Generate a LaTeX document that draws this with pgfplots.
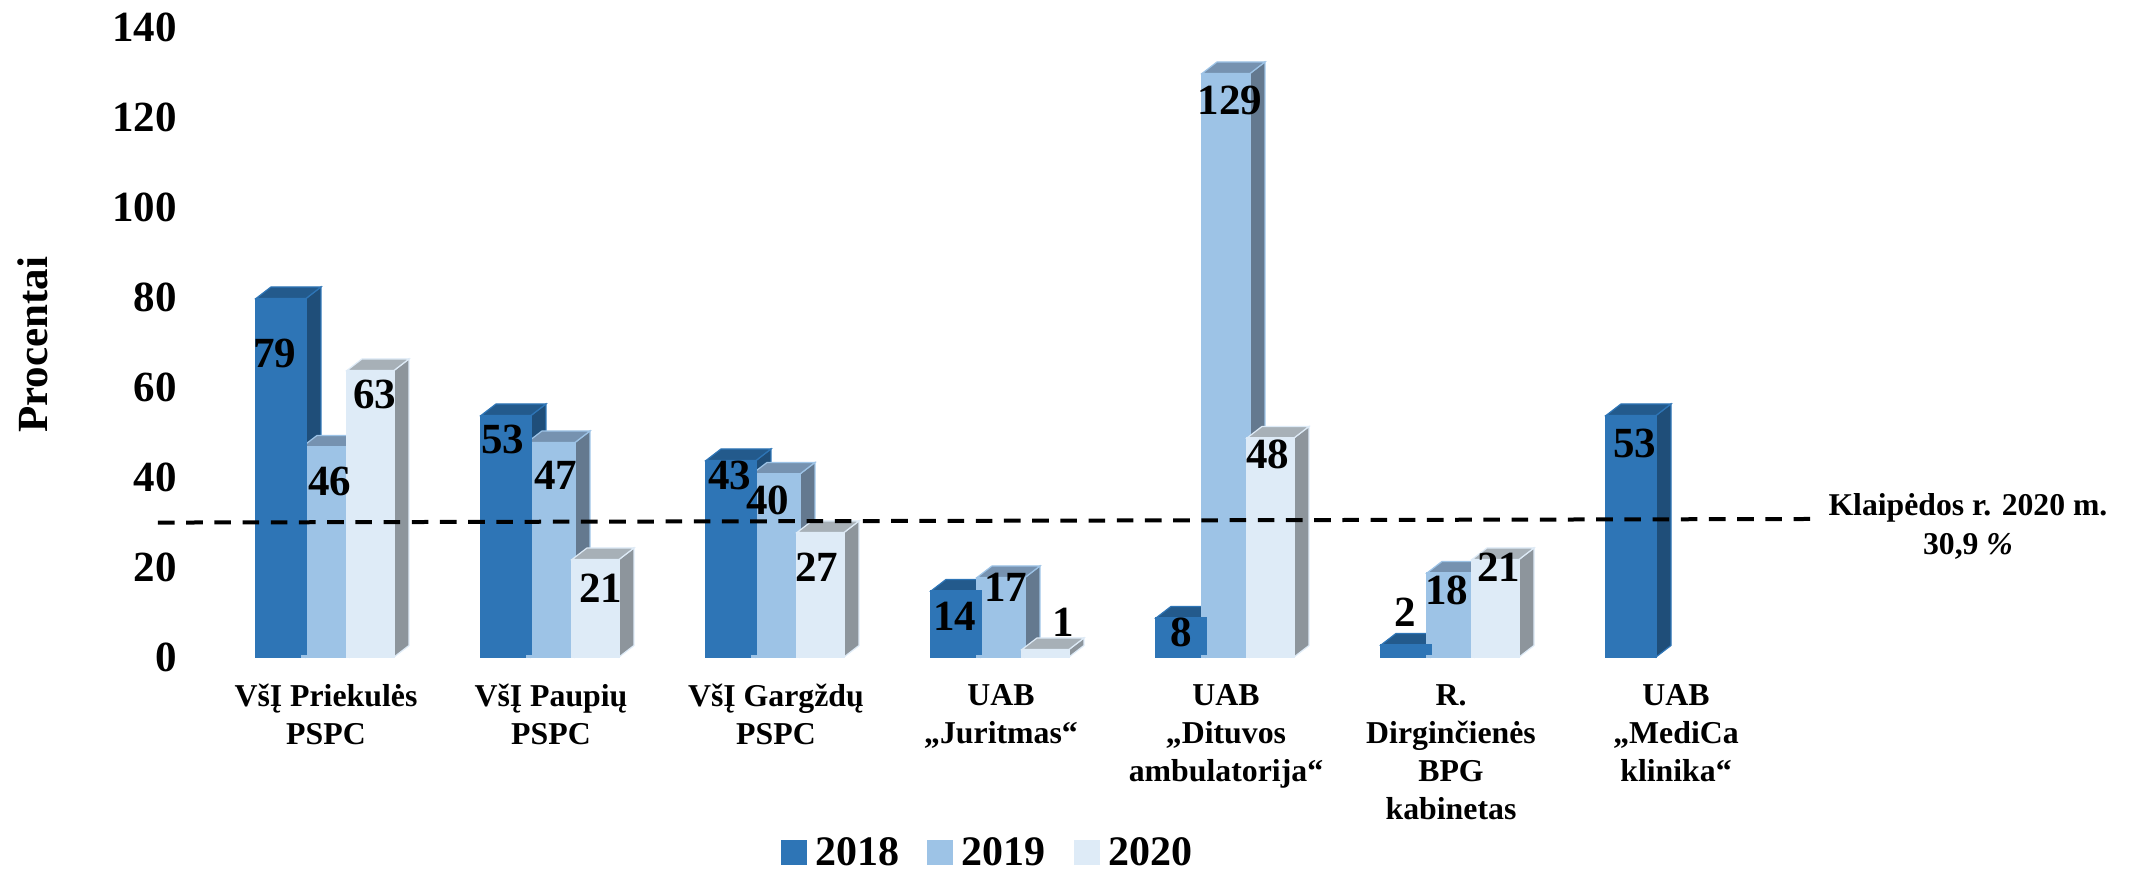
\documentclass[border=0pt]{standalone}
\usepackage{fontspec}
\setmainfont{Liberation Serif}
\usepackage{pgfplots}
\pgfplotsset{compat=1.18}
\definecolor{fronta}{HTML}{2E75B6}
\definecolor{sidea}{HTML}{1F4E79}
\definecolor{topa}{HTML}{235A8C}
\definecolor{frontb}{HTML}{9DC3E6}
\definecolor{sideb}{HTML}{64798F}
\definecolor{topb}{HTML}{7692B0}
\definecolor{frontc}{HTML}{DEEBF7}
\definecolor{sidec}{HTML}{8D959C}
\definecolor{topc}{HTML}{A7B0B7}
% 1px of the reference = 0.5pt; x unit = 225px, y unit = 4.5px
\newcommand{\depth}[7]{%
  \pgfmathsetmacro{\xl}{#1+(#2)/225}%
  \pgfmathsetmacro{\xr}{#1+(#3)/225}%
  \pgfmathsetmacro{\xd}{\xr+15/225}%
  \pgfmathsetmacro{\xe}{\xl+15/225}%
  \pgfmathsetmacro{\vt}{#4+2.56}%
  \addplot[forget plot,fill=#6,draw=#5,line width=.6pt] coordinates {(\xr,-0.67) (\xd,1.89) (\xd,\vt) (\xr,#4)} --cycle;
  \addplot[forget plot,fill=#7,draw=#5,line width=.6pt] coordinates {(\xl,#4) (\xe,\vt) (\xd,\vt) (\xr,#4)} --cycle;
  \addplot[forget plot,fill=#5,draw=#5,line width=.6pt] coordinates {(\xl,-0.67) (\xr,-0.67) (\xr,0) (\xl,0)} --cycle;
}
\newcommand{\da}[2]{\depth{#1}{-70}{-20}{#2}{fronta}{sidea}{topa}}
\newcommand{\db}[2]{\depth{#1}{-24}{24}{#2}{frontb}{sideb}{topb}}
\newcommand{\dc}[2]{\depth{#1}{21}{68}{#2}{frontc}{sidec}{topc}}
% value label placed at reference pixel position
\newcommand{\vlab}[3]{\node[font=\fontsize{21.5}{24}\selectfont\bfseries,inner sep=0pt] at (axis cs:{(#1-326)/225},{(654-#2)/4.5}) {#3};}
\begin{document}
\begin{tikzpicture}
\useasboundingbox (0,0) rectangle (1066.5pt,435.5pt);
\begin{axis}[
  at={(95pt,107pt)},
  anchor=south west,
  scale only axis,
  width=811.5pt,
  height=316.5pt,
  xmin=-0.6044, xmax=6.6089,
  ymin=-0.67, ymax=140,
  clip=false,
  axis line style={draw=none},
  major tick length=0pt,
  xtick={0,1,2,3,4,5,6},
  xticklabels={{VšĮ Priekulės\\PSPC},{VšĮ Paupių\\PSPC},{VšĮ Gargždų\\PSPC},{UAB\\„Juritmas“},{UAB\\„Dituvos\\ambulatorija“},{R.\\Dirginčienės\\BPG\\kabinetas},{UAB\\„MediCa\\klinika“}},
  xticklabel style={align=center,anchor=north,inner sep=0pt,yshift=-13.5pt,font=\fontsize{15.9}{19}\selectfont\bfseries},
  ytick={0,20,40,60,80,100,120,140},
  yticklabel style={anchor=east,inner sep=0pt,xshift=-6.5pt,yshift=-1.5pt,font=\fontsize{21.5}{24}\selectfont\bfseries,/pgf/number format/assume math mode=true},
  ylabel={Procentai},
  every axis y label/.style={at={(rel axis cs:-0.0967,0.493)},rotate=90,anchor=center,font=\fontsize{21.5}{24}\selectfont\bfseries},
  legend columns=3,
  legend style={draw=none,fill=none,at={(rel axis cs:0.492,-0.3096)},anchor=center,
    font=\fontsize{21}{24}\selectfont\bfseries,
    /tikz/column 2/.style={column sep=12pt},/tikz/column 4/.style={column sep=12pt}},
  legend image code/.code={\fill[#1,draw=none] (0pt,-6pt) rectangle (13pt,6.5pt);\path (15pt,0pt);},
]
\addlegendimage{fill=fronta}
\addlegendentry{2018}
\addlegendimage{fill=frontb}
\addlegendentry{2019}
\addlegendimage{fill=frontc}
\addlegendentry{2020}

% 2018 depth faces
\da{0}{79}\da{1}{53}\da{2}{43}\da{3}{14}\da{4}{8}\da{5}{2}\da{6}{53}
% 2019
\db{0}{46}\db{1}{47}\db{2}{40}\db{3}{17}\db{4}{129}\db{5}{18}
\addplot[forget plot,ybar,bar shift=0pt,bar width=24pt,fill=frontb,draw=frontb,line width=.6pt]
  coordinates {(0,46) (1,47) (2,40) (3,17) (4,129) (5,18)};
% 2020
\dc{0}{63}\dc{1}{21}\dc{2}{27}\dc{3}{1}\dc{4}{48}\dc{5}{21}
\addplot[forget plot,ybar,bar shift=22.25pt,bar width=23.5pt,fill=frontc,draw=frontc,line width=.6pt]
  coordinates {(0,63) (1,21) (2,27) (3,1) (4,48) (5,21)};
% 2018 fronts sit over the 2019 ones
\addplot[forget plot,ybar,bar shift=-22.5pt,bar width=25pt,fill=fronta,draw=fronta,line width=.6pt]
  coordinates {(0,79) (1,53) (2,43) (3,14) (4,8) (5,2) (6,53)};

% Klaipeda district level
\addplot[forget plot,black,line width=2pt,dash pattern=on 8.3pt off 5.8pt]
  coordinates {(-0.7467,29.2) (6.609,30)};

\vlab{275}{353}{79}\vlab{330}{481}{46}\vlab{375}{394}{63}
\vlab{503}{439}{53}\vlab{556}{475}{47}\vlab{601}{588}{21}
\vlab{730}{475}{43}\vlab{768}{500}{40}\vlab{817}{567}{27}
\vlab{955}{616}{14}\vlab{1006}{587}{17}\vlab{1063}{622}{1}
\vlab{1181}{632}{8}\vlab{1230}{100}{129}\vlab{1268}{454}{48}
\vlab{1405}{612}{2}\vlab{1447}{590}{18}\vlab{1499}{567}{21}
\vlab{1635}{443}{53}

\node[font=\fontsize{15.85}{19.5}\selectfont\bfseries,align=center,inner sep=0pt] at (axis cs:{(1968-326)/225},{(654-526)/4.5}) {Klaipėdos r. 2020 m.\\30,9 {\itshape\%}};
\end{axis}
\end{tikzpicture}
\end{document}
